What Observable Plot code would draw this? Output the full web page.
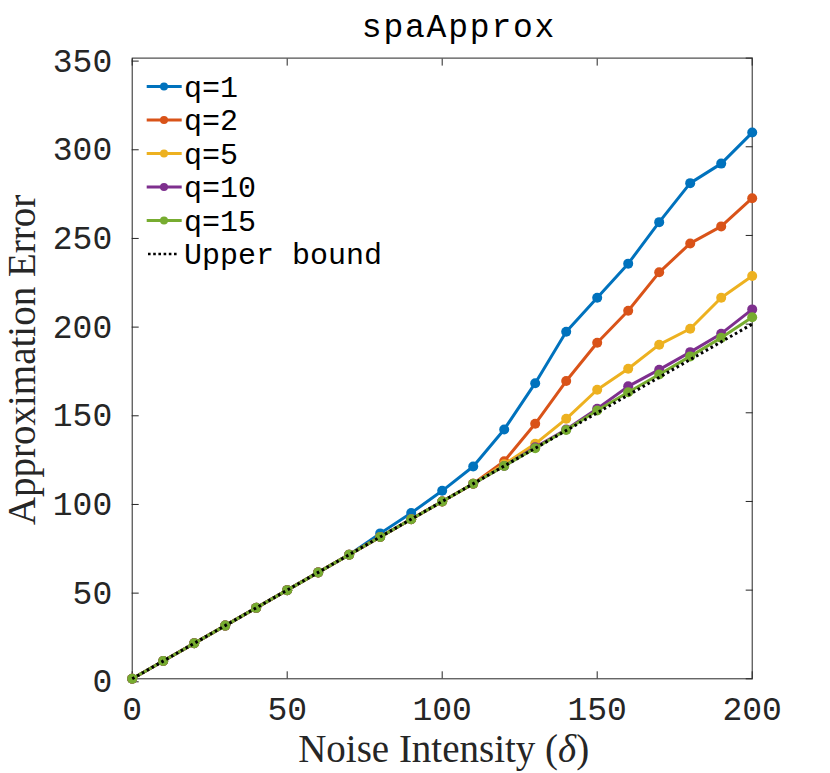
<!DOCTYPE html>
<html>
<head>
<meta charset="utf-8">
<script src="https://cdn.jsdelivr.net/npm/d3@7"></script>
<script src="https://cdn.jsdelivr.net/npm/@observablehq/plot@0.6"></script>
<style>
  html, body { margin: 0; padding: 0; background: #fff; }
  #chart { width: 830px; height: 773px; }
</style>
</head>
<body>
<div id="chart"></div>
<script>
// ---- data ----
const noise = [0,10,20,30,40,50,60,70,80,90,100,110,120,130,140,150,160,170,180,190,200];
const q1  = [0,10,20,30,40,50,60,70,82,93.5,106,119.7,140.6,166.7,195.7,214.9,234.1,257.5,279.5,290.5,308];
const q2  = [0,10,20,30,40,50,60,70,80,90,100,110,122.7,143.8,167.9,189.5,207.5,229.2,245.5,255.1,271];
const q5  = [0,10,20,30,40,50,60,70,80,90,100,110,121,132.5,146.6,163,174.8,188.4,197.4,214.9,227.1];
const q10 = [0,10,20,30,40,50,60,70,80,90,100,110,120,130.5,140.6,152.3,164.9,174.3,184.2,194.6,208.3];
const q15 = [0,10,20,30,40,50,60,70,80,90,100,110,120,130,140.3,151.3,161.6,171.6,181.8,192.3,203.9];
const boundX = [0,200];
const boundY = [0,200];
const seriesNames = ["q=1","q=2","q=5","q=10","q=15"];
const seriesValues = [q1,q2,q5,q10,q15];
const seriesColors = ["#0072BD","#D95319","#EDB120","#7E2F8E","#77AC30"];
const boundName = "Upper bound";
const xTicks = [0,50,100,150,200];
const yTicks = [0,50,100,150,200,250,300,350];
const titleText = "spaApprox";
const xLabel = "Noise Intensity (";
const xLabelSym = "δ";
const yLabel = "Approximation Error";

// ---- build tables ----
const tables = seriesValues.map((vals, k) => noise.map((x, i) => ({x, y: vals[i], s: seriesNames[k]})));
const bound = boundX.map((x, i) => ({x, y: boundY[i]}));

const axisColor = "#262626";
const marks = [
  Plot.frame({stroke: axisColor, strokeWidth: 1}),
  Plot.axisX(xTicks, {anchor: "bottom", tickSize: -7, tickPadding: 25, label: null, stroke: axisColor, fill: axisColor, fontSize: 33}),
  Plot.axisX(xTicks, {anchor: "top", tickSize: -7, text: null, label: null, stroke: axisColor}),
  Plot.axisY(yTicks, {anchor: "left", tickSize: -7, tickPadding: 27, label: null, stroke: axisColor, fill: axisColor, fontSize: 33, dy: 3}),
  Plot.axisY(yTicks, {anchor: "right", tickSize: -7, text: null, label: null, stroke: axisColor})
];
tables.forEach((t, k) => {
  marks.push(Plot.line(t, {x: "x", y: "y", stroke: seriesColors[k], strokeWidth: 3}));
  marks.push(Plot.dot(t, {x: "x", y: "y", fill: seriesColors[k], r: 5}));
});
marks.push(Plot.line(bound, {x: "x", y: "y", stroke: "black", strokeWidth: 3, strokeDasharray: "2.6 3", strokeLinecap: "butt"}));

const W = 830, H = 773, mL = 131.7, mR = 78.3, mT = 57.6, mB = 94.7;
const chart = Plot.plot({
  width: W, height: H,
  marginLeft: mL, marginRight: mR, marginTop: mT, marginBottom: mB,
  x: {domain: [0, 200]},
  y: {domain: [0, 350]},
  style: {fontFamily: "Liberation Mono", fontSize: "33px", color: axisColor, background: "white", overflow: "visible"},
  marks
});
document.getElementById("chart").appendChild(chart);

// ---- title, axis labels, legend ----
const svg = d3.select(chart);
svg.append("text")
  .attr("x", 459).attr("y", 37)
  .attr("text-anchor", "middle")
  .attr("font-family", "Liberation Mono").attr("font-size", 33)
  .attr("letter-spacing", 1.8)
  .attr("fill", "black")
  .text(titleText);

const xl = svg.append("text")
  .attr("x", (mL + W - mR) / 2 + 2).attr("y", 762)
  .attr("text-anchor", "middle")
  .attr("font-family", "Liberation Serif").attr("font-size", 39)
  .attr("fill", axisColor);
xl.append("tspan").text(xLabel);
xl.append("tspan").attr("font-style", "italic").text(xLabelSym);
xl.append("tspan").text(")");

svg.append("text")
  .attr("transform", `translate(35, ${(mT + H - mB) / 2 - 8}) rotate(-90)`)
  .attr("text-anchor", "middle")
  .attr("font-family", "Liberation Serif").attr("font-size", 39)
  .attr("fill", axisColor)
  .text(yLabel);

const leg = svg.append("g");
const legY0 = 86.5, legStep = 33.5;
const entries = seriesNames.map((n, k) => ({name: n, color: seriesColors[k], bound: false}))
  .concat([{name: boundName, color: "black", bound: true}]);
entries.forEach((e, i) => {
  const y = legY0 + i * legStep;
  const g = leg.append("g");
  if (e.bound) {
    g.append("line").attr("x1", 148).attr("x2", 179).attr("y1", y).attr("y2", y)
      .attr("stroke", "black").attr("stroke-width", 2.6).attr("stroke-dasharray", "2.6 2.6");
  } else {
    g.append("line").attr("x1", 146.7).attr("x2", 181.7).attr("y1", y).attr("y2", y)
      .attr("stroke", e.color).attr("stroke-width", 2.8);
    g.append("circle").attr("cx", 164).attr("cy", y).attr("r", 4).attr("fill", e.color);
  }
  g.append("text").attr("x", 184).attr("y", y + 10)
    .attr("text-anchor", "start")
    .attr("font-family", "Liberation Mono").attr("font-size", 30)
    .attr("fill", "black")
    .text(e.name);
});
</script>
</body>
</html>
